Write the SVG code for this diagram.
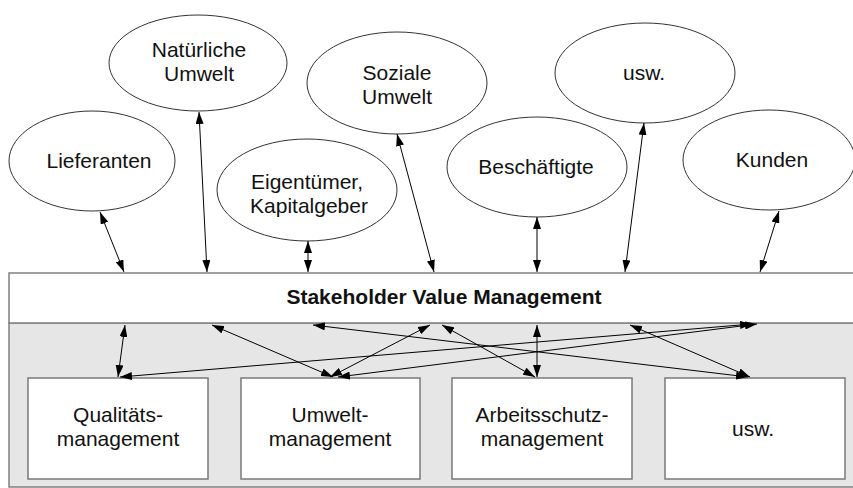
<svg xmlns="http://www.w3.org/2000/svg" width="853" height="488" viewBox="0 0 853 488">
<style>
  .ell{fill:#fff;stroke:#333;stroke-width:1}
  .box{fill:#fff;stroke:#7a7a7a;stroke-width:1.5}
  .t{font-family:"Liberation Sans",Arial,sans-serif;font-size:21px;fill:#111;text-anchor:middle}
  .title{font-family:"Liberation Sans",Arial,sans-serif;font-size:21px;font-weight:bold;fill:#111;text-anchor:middle}
  .c{stroke:#000;stroke-width:1;fill:none;marker-start:url(#ah);marker-end:url(#ah)}
</style>
<defs>
  <marker id="ah" viewBox="0 0 12 8" refX="12" refY="4" markerWidth="12" markerHeight="8" markerUnits="userSpaceOnUse" orient="auto-start-reverse">
    <path d="M0,0 L12,4 L0,8 z" fill="#000"/>
  </marker>
</defs>
<rect width="853" height="488" fill="#fff"/>
<g id="band">
  <rect x="9" y="323" width="850" height="164" fill="#e6e6e6" stroke="#808080" stroke-width="1.5"/>
  <rect x="9" y="273" width="850" height="50" fill="#fff" stroke="#808080" stroke-width="1.5"/>
  <text class="title" x="444" y="304">Stakeholder Value Management</text>
</g>
<g id="lieferanten">
  <ellipse class="ell" cx="92" cy="161" rx="83" ry="50"/>
  <text class="t" x="99" y="168">Lieferanten</text>
</g>
<g id="natuerliche-umwelt">
  <ellipse class="ell" cx="198" cy="63" rx="89" ry="48"/>
  <text class="t" x="199" y="57">Natürliche</text>
  <text class="t" x="199" y="81">Umwelt</text>
</g>
<g id="eigentuemer">
  <ellipse class="ell" cx="307" cy="190" rx="90" ry="51"/>
  <text class="t" x="307" y="189">Eigentümer,</text>
  <text class="t" x="309" y="213">Kapitalgeber</text>
</g>
<g id="soziale-umwelt">
  <ellipse class="ell" cx="397" cy="83" rx="90" ry="51"/>
  <text class="t" x="397" y="80">Soziale</text>
  <text class="t" x="397" y="104">Umwelt</text>
</g>
<g id="beschaeftigte">
  <ellipse class="ell" cx="537" cy="167" rx="90" ry="50"/>
  <text class="t" x="536" y="174">Beschäftigte</text>
</g>
<g id="usw-top">
  <ellipse class="ell" cx="645" cy="73" rx="90" ry="50"/>
  <text class="t" x="644" y="80">usw.</text>
</g>
<g id="kunden">
  <ellipse class="ell" cx="769" cy="160" rx="86" ry="50"/>
  <text class="t" x="772" y="167">Kunden</text>
</g>
<g id="qualitaet">
  <rect class="box" x="28" y="378" width="180" height="101"/>
  <text class="t" x="118" y="422">Qualitäts-</text>
  <text class="t" x="118" y="446">management</text>
</g>
<g id="umwelt">
  <rect class="box" x="241" y="378" width="179" height="101"/>
  <text class="t" x="330" y="422">Umwelt-</text>
  <text class="t" x="330" y="446">management</text>
</g>
<g id="arbeitsschutz">
  <rect class="box" x="452" y="378" width="180" height="101"/>
  <text class="t" x="542" y="422">Arbeitsschutz-</text>
  <text class="t" x="542" y="446">management</text>
</g>
<g id="usw-bottom">
  <rect class="box" x="665" y="378" width="180" height="101"/>
  <text class="t" x="753" y="436">usw.</text>
</g>
<g id="connectors">
  <line class="c" x1="100" y1="212" x2="124" y2="272"/>
  <line class="c" x1="199" y1="112" x2="207" y2="272"/>
  <line class="c" x1="308" y1="241" x2="308" y2="272"/>
  <line class="c" x1="397" y1="134" x2="434" y2="272"/>
  <line class="c" x1="537" y1="217" x2="537" y2="272"/>
  <line class="c" x1="644" y1="123" x2="625" y2="272"/>
  <line class="c" x1="779" y1="211" x2="760" y2="272"/>
  <line class="c" x1="125" y1="325" x2="118" y2="377"/>
  <line class="c" x1="212" y1="325" x2="333" y2="377"/>
  <line class="c" x1="313" y1="325" x2="748" y2="377"/>
  <line class="c" x1="430" y1="325" x2="330" y2="377"/>
  <line class="c" x1="442" y1="325" x2="535" y2="377"/>
  <line class="c" x1="537" y1="325" x2="537" y2="377"/>
  <line class="c" x1="630" y1="325" x2="750" y2="377"/>
  <line class="c" x1="120" y1="377" x2="752" y2="324"/>
  <line class="c" x1="338" y1="377" x2="757" y2="324"/>
</g>
</svg>
